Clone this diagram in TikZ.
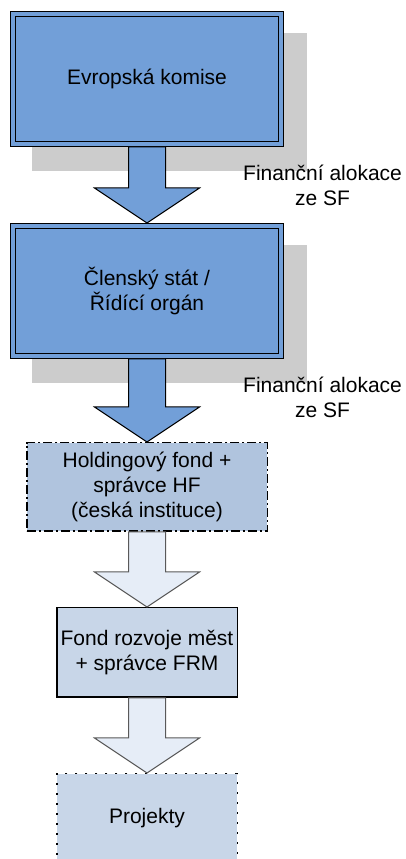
\documentclass[tikz,border=0pt]{standalone}
\usepackage{fontspec}
\setmainfont{Liberation Sans}
\usetikzlibrary{positioning}
\usetikzlibrary{calc}
\usetikzlibrary{backgrounds}

\definecolor{komiseblue}{RGB}{114,159,216}
\definecolor{holdingblue}{RGB}{176,196,222}
\definecolor{fondblue}{RGB}{200,214,232}
\definecolor{arrowpale}{RGB}{230,237,247}
\definecolor{shadowgray}{RGB}{204,204,204}

\begin{document}
\begin{tikzpicture}[x=1pt, y=1pt,
    every node/.style={font={\fontsize{21}{25}\selectfont}, align=center, inner sep=2pt},
    mainbox/.style={draw=black, fill=komiseblue, line width=1.3pt, double=komiseblue, double distance=3.4pt, outer sep=3pt, minimum width=268pt, minimum height=130pt},
    holdbox/.style={draw=black, fill=holdingblue, line width=1.5pt, dash pattern=on 9pt off 3pt on 2pt off 3pt, minimum width=240.5pt, minimum height=88.5pt},
    fondbox/.style={draw=black, fill=fondblue, line width=1.5pt, minimum width=180.5pt, minimum height=89.5pt},
    projbox/.style={fondbox, dash pattern=on 2pt off 8pt},
    bluearrow/.style={draw=black, fill=komiseblue, line width=1pt},
    palearrow/.style={draw=black!65, fill=arrowpale, line width=1pt},
    flowlabel/.style={inner sep=0pt}]
    \useasboundingbox (0,0) rectangle (406,859);
    \clip (0,0) rectangle (406,859);

    \node[mainbox] (ek) at (147,780) {Evropská komise};
    \node[mainbox, below=76pt of ek] (cs) {Členský stát /\\Řídící orgán};
    \node[holdbox, below=83pt of cs] (hf) {Holdingový fond +\\správce HF\\(česká instituce)};
    \node[fondbox, below=75pt of hf] (frm) {Fond rozvoje měst\\+ správce FRM};
    \node[projbox, below=75pt of frm] (proj) {Projekty};

    % shadows behind the two top boxes
    \begin{scope}[on background layer]
        \fill[shadowgray] ([shift={(22,-22)}]ek.north west) rectangle ([shift={(23,-24)}]ek.south east);
        \fill[shadowgray] ([shift={(22,-22)}]cs.north west) rectangle ([shift={(23,-24)}]cs.south east);
    \end{scope}

    \node[flowlabel, below right=18pt and -41pt of ek] (alok1) {Finanční alokace\\ze SF};
    \node[flowlabel, below right=18pt and -41pt of cs] (alok2) {Finanční alokace\\ze SF};

    \draw[bluearrow] ($(ek.south)+(-18.5,0)$) -- ($(cs.north)+(-18.5,35)$) -- ($(cs.north)+(-52.5,35)$) -- (cs.north) -- ($(cs.north)+(52.5,35)$) -- ($(cs.north)+(18.5,35)$) -- ($(ek.south)+(18.5,0)$) -- cycle;
    \draw[bluearrow] ($(cs.south)+(-18.5,0)$) -- ($(hf.north)+(-18.5,35)$) -- ($(hf.north)+(-52.5,35)$) -- (hf.north) -- ($(hf.north)+(52.5,35)$) -- ($(hf.north)+(18.5,35)$) -- ($(cs.south)+(18.5,0)$) -- cycle;
    \draw[palearrow] ($(hf.south)+(-18.5,0)$) -- ($(frm.north)+(-18.5,35)$) -- ($(frm.north)+(-52.5,35)$) -- (frm.north) -- ($(frm.north)+(52.5,35)$) -- ($(frm.north)+(18.5,35)$) -- ($(hf.south)+(18.5,0)$) -- cycle;
    \draw[palearrow] ($(frm.south)+(-18.5,0)$) -- ($(proj.north)+(-18.5,35)$) -- ($(proj.north)+(-52.5,35)$) -- (proj.north) -- ($(proj.north)+(52.5,35)$) -- ($(proj.north)+(18.5,35)$) -- ($(frm.south)+(18.5,0)$) -- cycle;
\end{tikzpicture}
\end{document}
